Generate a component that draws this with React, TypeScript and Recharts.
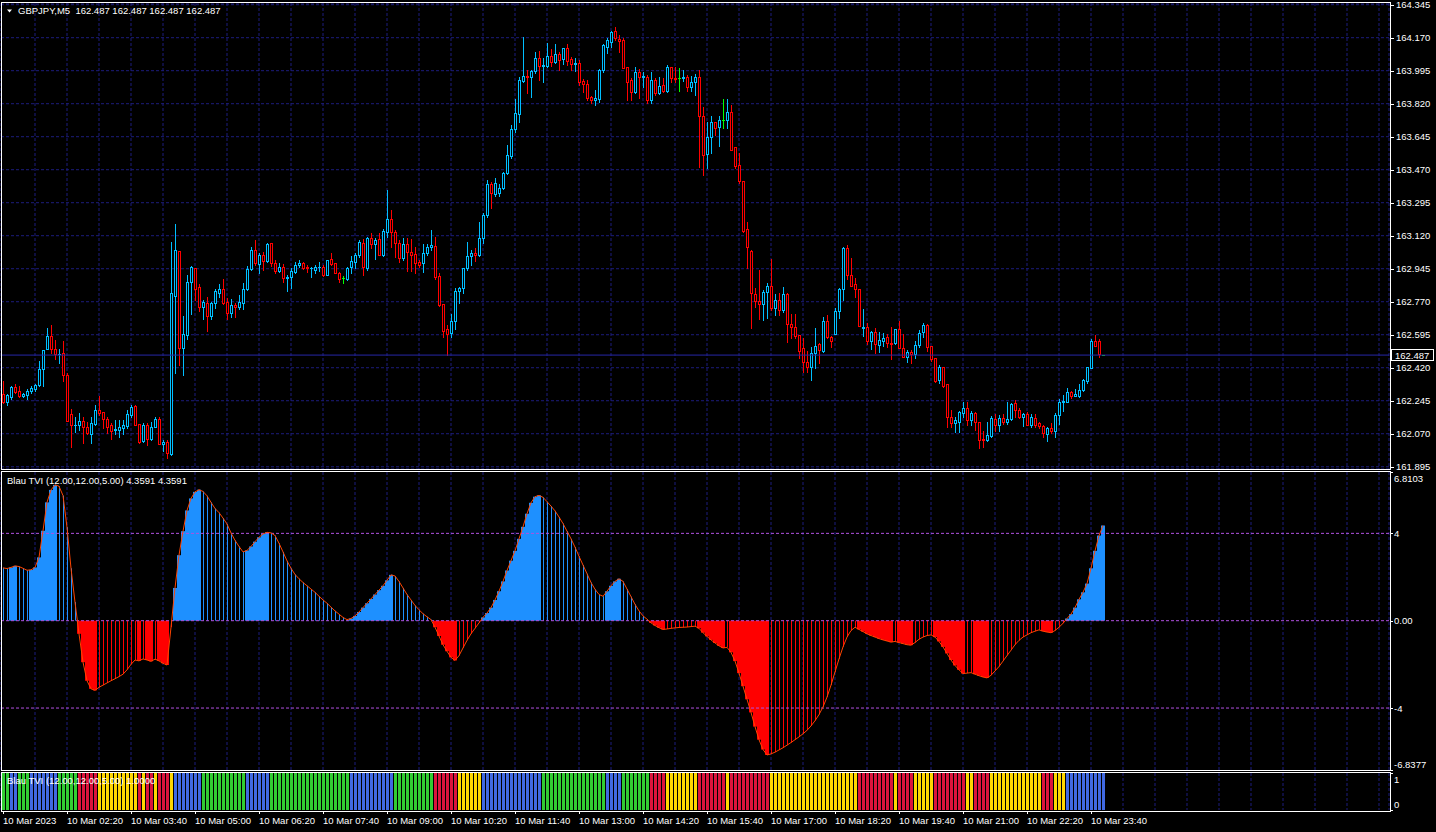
import React from "react"
import { Bar, CartesianGrid, ComposedChart, Line, ReferenceLine, XAxis, YAxis } from "recharts"

// 347 bar slots of 4px fill the window; bars 276..346 are the empty chart shift
const SLOTS = 347
const FONT = "'Liberation Sans', Arial, sans-serif"
const TEXT = "#ffffff"
const GRID = "#1c1c7c"
const BULL = "#00bfff"
const BEAR = "#ff0000"
const DOJI = "#00ff00"
const TVI_UP = "#1e90ff"
const TVI_DOWN = "#ff0000"
const TVI_LINE = "#ff4500"
const LEVEL = "#b050e0"
const BID = "#2626a6"
const SIGNAL_COLORS: Record<string, string> = { G: "#32cd32", B: "#4169e1", R: "#dc143c", Y: "#ffd700" }

const symbol = "GBPJPY,M5"
const indicatorName = "Blau TVI (12.00,12.00,5.00)"

// one label every 16 bars (80 minutes)
const timeLabels = [
  "10 Mar 2023", "10 Mar 02:20", "10 Mar 03:40", "10 Mar 05:00", "10 Mar 06:20", "10 Mar 07:40",
  "10 Mar 09:00", "10 Mar 10:20", "10 Mar 11:40", "10 Mar 13:00", "10 Mar 14:20", "10 Mar 15:40",
  "10 Mar 17:00", "10 Mar 18:20", "10 Mar 19:40", "10 Mar 21:00", "10 Mar 22:20", "10 Mar 23:40",
]

const priceTicks = [
  164.345, 164.17, 163.995, 163.82, 163.645, 163.47, 163.295, 163.12,
  162.945, 162.77, 162.595, 162.42, 162.245, 162.07, 161.895,
]
const priceDomain = [161.883, 164.354]

const tviTicks = [6.8103, 4, 0, -4, -6.8377]
const tviTickLabels = ["6.8103", "4", "0.00", "-4", "-6.8377"]
const tviLevels = [4, 0, -4]
const signalTicks = [1, 0]

const openPrices = [
  162.279, 162.240, 162.263, 162.316, 162.296, 162.272, 162.275, 162.296, 162.307, 162.326,
  162.411, 162.517, 162.588, 162.517, 162.491, 162.496, 162.380, 162.173, 162.116, 162.116,
  162.137, 162.104, 162.067, 162.122, 162.196, 162.183, 162.146, 162.114, 162.090, 162.090,
  162.102, 162.113, 162.171, 162.217, 162.120, 162.033, 162.116, 162.044, 162.107, 162.148,
  162.015, 162.024, 161.961, 162.801, 163.039, 162.523, 162.593, 162.873, 162.947, 162.846,
  162.740, 162.761, 162.696, 162.761, 162.818, 162.836, 162.770, 162.712, 162.752, 162.740,
  162.765, 162.836, 162.942, 163.044, 162.970, 163.018, 162.988, 163.080, 162.973, 162.935,
  162.952, 162.896, 162.899, 162.929, 162.965, 162.977, 162.952, 162.947, 162.938, 162.952,
  162.952, 162.912, 162.994, 162.973, 162.924, 162.894, 162.889, 162.956, 162.982, 163.018,
  163.083, 162.947, 163.106, 163.076, 163.101, 163.018, 163.141, 163.207, 163.138, 163.083,
  163.003, 163.074, 163.035, 163.023, 162.979, 162.973, 163.026, 163.058, 163.065, 162.906,
  162.757, 162.625, 162.602, 162.668, 162.827, 162.841, 162.951, 163.012, 163.030, 163.018,
  163.106, 163.230, 163.394, 163.341, 163.345, 163.371, 163.451, 163.543, 163.686, 163.764,
  163.942, 163.967, 163.963, 163.993, 164.060, 164.022, 164.022, 164.073, 164.039, 164.082,
  164.057, 164.114, 164.057, 164.031, 164.034, 163.940, 163.923, 163.857, 163.840, 163.845,
  163.999, 164.122, 164.149, 164.206, 164.163, 164.158, 164.016, 163.946, 163.884, 163.986,
  163.963, 163.963, 163.840, 163.946, 163.875, 163.919, 163.889, 164.016, 163.958, 163.954,
  163.958, 163.960, 163.910, 163.933, 163.963, 163.757, 163.551, 163.642, 163.721, 163.698,
  163.734, 163.734, 163.774, 163.588, 163.495, 163.410, 163.155, 163.039, 162.809, 162.774,
  162.756, 162.820, 162.853, 162.735, 162.779, 162.726, 162.809, 162.650, 162.638, 162.593,
  162.522, 162.452, 162.426, 162.496, 162.544, 162.509, 162.668, 162.581, 162.600, 162.721,
  162.836, 163.053, 162.912, 162.864, 162.836, 162.632, 162.634, 162.563, 162.611, 162.541,
  162.563, 162.581, 162.549, 162.549, 162.623, 162.523, 162.479, 162.502, 162.491, 162.539,
  162.611, 162.646, 162.535, 162.470, 162.355, 162.422, 162.334, 162.157, 162.125, 162.134,
  162.178, 162.204, 162.143, 162.178, 162.134, 162.044, 162.037, 162.058, 162.146, 162.116,
  162.152, 162.134, 162.146, 162.231, 162.196, 162.157, 162.174, 162.116, 162.152, 162.125,
  162.111, 162.066, 162.098, 162.086, 162.169, 162.236, 162.240, 162.289, 162.272, 162.272,
  162.302, 162.352, 162.419, 162.562, 162.562, 162.487,
]

const highPrices = [
  162.349, 162.280, 162.323, 162.333, 162.323, 162.288, 162.305, 162.323, 162.333, 162.455,
  162.512, 162.629, 162.646, 162.567, 162.520, 162.562, 162.390, 162.201, 162.160, 162.178,
  162.160, 162.134, 162.157, 162.222, 162.270, 162.185, 162.157, 162.125, 162.143, 162.143,
  162.143, 162.196, 162.222, 162.222, 162.120, 162.125, 162.125, 162.134, 162.157, 162.160,
  162.037, 162.037, 163.088, 163.182, 163.040, 162.694, 162.912, 162.959, 162.947, 162.864,
  162.779, 162.793, 162.770, 162.836, 162.864, 162.889, 162.788, 162.782, 162.761, 162.806,
  162.867, 162.959, 163.062, 163.097, 163.027, 163.035, 163.080, 163.080, 162.990, 162.973,
  162.970, 162.912, 162.947, 162.979, 162.991, 162.982, 162.965, 162.956, 162.965, 162.982,
  162.965, 162.991, 163.027, 162.977, 162.929, 162.906, 162.956, 163.012, 163.030, 163.097,
  163.100, 163.111, 163.133, 163.106, 163.133, 163.154, 163.362, 163.256, 163.148, 163.098,
  163.106, 163.106, 163.101, 163.062, 162.991, 163.076, 163.076, 163.150, 163.111, 162.920,
  162.757, 162.646, 162.705, 162.841, 162.850, 162.951, 163.088, 163.044, 163.053, 163.194,
  163.242, 163.415, 163.406, 163.424, 163.394, 163.460, 163.601, 163.707, 163.845, 163.963,
  164.175, 163.998, 163.998, 164.096, 164.101, 164.064, 164.140, 164.110, 164.137, 164.096,
  164.117, 164.135, 164.070, 164.064, 164.052, 163.951, 163.946, 163.863, 163.893, 164.004,
  164.135, 164.167, 164.206, 164.229, 164.184, 164.167, 164.016, 163.958, 164.013, 164.004,
  163.990, 163.972, 163.990, 163.954, 163.963, 163.954, 164.025, 164.016, 164.016, 164.011,
  163.999, 163.972, 163.969, 163.976, 164.001, 163.804, 163.721, 163.756, 163.725, 163.756,
  163.845, 163.845, 163.813, 163.592, 163.560, 163.410, 163.191, 163.044, 162.844, 162.938,
  162.832, 162.867, 162.996, 162.809, 162.814, 162.850, 162.814, 162.703, 162.703, 162.593,
  162.576, 162.508, 162.531, 162.629, 162.549, 162.691, 162.700, 162.588, 162.735, 162.841,
  163.058, 163.071, 163.000, 162.894, 162.836, 162.730, 162.659, 162.616, 162.629, 162.611,
  162.602, 162.599, 162.634, 162.623, 162.669, 162.599, 162.514, 162.514, 162.563, 162.620,
  162.655, 162.652, 162.535, 162.470, 162.434, 162.426, 162.334, 162.196, 162.160, 162.192,
  162.240, 162.240, 162.192, 162.187, 162.134, 162.084, 162.134, 162.164, 162.174, 162.169,
  162.174, 162.240, 162.234, 162.249, 162.204, 162.181, 162.187, 162.174, 162.174, 162.134,
  162.116, 162.107, 162.128, 162.178, 162.252, 162.275, 162.310, 162.296, 162.305, 162.333,
  162.358, 162.426, 162.570, 162.593, 162.570, 162.487,
]

const lowPrices = [
  162.235, 162.222, 162.252, 162.284, 162.263, 162.263, 162.252, 162.288, 162.296, 162.323,
  162.323, 162.517, 162.496, 162.464, 162.447, 162.351, 162.135, 162.001, 162.081, 162.090,
  162.022, 162.070, 162.019, 162.116, 162.170, 162.098, 162.075, 162.044, 162.068, 162.054,
  162.068, 162.102, 162.160, 162.116, 162.022, 162.028, 162.012, 162.038, 162.104, 162.015,
  161.978, 161.943, 161.955, 162.390, 162.434, 162.381, 162.570, 162.705, 162.779, 162.722,
  162.678, 162.616, 162.678, 162.735, 162.793, 162.759, 162.678, 162.687, 162.687, 162.729,
  162.730, 162.832, 162.940, 162.965, 162.924, 162.938, 162.982, 162.960, 162.920, 162.929,
  162.876, 162.828, 162.841, 162.924, 162.952, 162.942, 162.929, 162.903, 162.920, 162.935,
  162.906, 162.910, 162.965, 162.920, 162.876, 162.867, 162.885, 162.920, 162.947, 163.009,
  162.912, 162.938, 163.053, 162.995, 163.018, 163.010, 163.115, 163.062, 163.009, 162.982,
  162.991, 162.935, 162.935, 162.924, 162.952, 162.929, 163.017, 163.044, 162.888, 162.747,
  162.581, 162.487, 162.581, 162.623, 162.761, 162.818, 162.938, 162.965, 162.988, 163.012,
  163.080, 163.221, 163.265, 163.332, 163.332, 163.366, 163.447, 163.530, 163.672, 163.725,
  163.937, 163.879, 163.857, 163.981, 163.946, 163.937, 164.016, 164.022, 164.034, 163.999,
  164.029, 164.025, 163.999, 163.994, 163.919, 163.884, 163.840, 163.822, 163.813, 163.831,
  163.990, 164.087, 164.122, 164.158, 164.096, 164.008, 163.840, 163.840, 163.875, 163.849,
  163.910, 163.822, 163.822, 163.866, 163.870, 163.880, 163.884, 163.937, 163.937, 163.887,
  163.940, 163.887, 163.887, 163.866, 163.486, 163.442, 163.477, 163.557, 163.654, 163.597,
  163.693, 163.689, 163.575, 163.477, 163.398, 163.141, 162.947, 162.632, 162.744, 162.678,
  162.673, 162.685, 162.726, 162.699, 162.699, 162.717, 162.558, 162.579, 162.579, 162.473,
  162.399, 162.399, 162.355, 162.417, 162.443, 162.505, 162.576, 162.528, 162.600, 162.682,
  162.779, 162.889, 162.855, 162.797, 162.643, 162.590, 162.546, 162.517, 162.496, 162.501,
  162.535, 162.532, 162.464, 162.546, 162.523, 162.475, 162.452, 162.447, 162.470, 162.532,
  162.585, 162.510, 162.457, 162.346, 162.340, 162.316, 162.107, 162.107, 162.081, 162.081,
  162.160, 162.116, 162.116, 162.090, 161.992, 162.001, 162.033, 162.054, 162.086, 162.086,
  162.121, 162.121, 162.143, 162.160, 162.155, 162.113, 162.116, 162.107, 162.107, 162.098,
  162.051, 162.031, 162.072, 162.054, 162.121, 162.192, 162.236, 162.261, 162.272, 162.266,
  162.298, 162.341, 162.416, 162.535, 162.475, 162.487,
]

const closePrices = [
  162.240, 162.275, 162.316, 162.293, 162.272, 162.280, 162.298, 162.310, 162.326, 162.411,
  162.512, 162.588, 162.517, 162.491, 162.494, 162.380, 162.139, 162.114, 162.118, 162.137,
  162.104, 162.075, 162.125, 162.196, 162.178, 162.146, 162.107, 162.086, 162.093, 162.106,
  162.114, 162.175, 162.212, 162.116, 162.028, 162.116, 162.042, 162.104, 162.148, 162.017,
  162.024, 161.969, 162.815, 163.044, 162.523, 162.597, 162.873, 162.952, 162.836, 162.744,
  162.770, 162.696, 162.761, 162.827, 162.836, 162.761, 162.712, 162.752, 162.740, 162.770,
  162.836, 162.942, 163.044, 162.973, 163.018, 162.988, 163.076, 162.973, 162.935, 162.952,
  162.894, 162.899, 162.933, 162.965, 162.977, 162.947, 162.949, 162.950, 162.956, 162.954,
  162.912, 162.991, 162.970, 162.924, 162.889, 162.894, 162.949, 162.984, 163.016, 163.087,
  162.956, 163.106, 163.076, 163.097, 163.018, 163.145, 163.207, 163.138, 163.083, 163.003,
  163.074, 163.035, 163.018, 162.973, 162.965, 163.026, 163.058, 163.071, 162.903, 162.752,
  162.616, 162.599, 162.668, 162.827, 162.841, 162.951, 163.012, 163.030, 163.018, 163.106,
  163.230, 163.394, 163.345, 163.401, 163.371, 163.451, 163.548, 163.686, 163.769, 163.946,
  163.967, 163.960, 163.993, 164.060, 164.022, 164.025, 164.073, 164.039, 164.082, 164.052,
  164.114, 164.048, 164.031, 164.034, 163.933, 163.923, 163.852, 163.840, 163.849, 163.999,
  164.131, 164.158, 164.199, 164.167, 164.154, 164.011, 163.937, 163.884, 163.986, 163.963,
  163.965, 163.840, 163.946, 163.875, 163.914, 163.889, 164.013, 163.954, 163.949, 163.954,
  163.960, 163.910, 163.933, 163.960, 163.757, 163.548, 163.642, 163.721, 163.689, 163.734,
  163.734, 163.774, 163.575, 163.491, 163.412, 163.145, 163.062, 162.814, 162.774, 162.756,
  162.820, 162.853, 162.735, 162.779, 162.726, 162.809, 162.650, 162.638, 162.590, 162.510,
  162.452, 162.426, 162.496, 162.537, 162.514, 162.668, 162.585, 162.563, 162.721, 162.836,
  163.053, 162.912, 162.855, 162.836, 162.643, 162.634, 162.563, 162.611, 162.546, 162.567,
  162.576, 162.549, 162.546, 162.623, 162.523, 162.479, 162.502, 162.491, 162.539, 162.606,
  162.646, 162.532, 162.466, 162.351, 162.426, 162.325, 162.157, 162.125, 162.143, 162.185,
  162.204, 162.143, 162.178, 162.134, 162.037, 162.037, 162.063, 162.152, 162.116, 162.152,
  162.134, 162.146, 162.227, 162.196, 162.160, 162.174, 162.116, 162.157, 162.116, 162.111,
  162.072, 162.098, 162.084, 162.169, 162.236, 162.243, 162.289, 162.272, 162.280, 162.302,
  162.355, 162.422, 162.562, 162.535, 162.493, 162.487,
]

const tviValues = [
  2.42, 2.39, 2.44, 2.51, 2.48, 2.40, 2.31, 2.33, 2.44, 2.90,
  4.12, 5.42, 5.99, 6.22, 6.16, 5.73, 4.28, 2.40, 0.85, -0.60,
  -1.90, -2.75, -3.12, -3.19, -3.05, -2.95, -2.85, -2.75, -2.66, -2.56,
  -2.45, -2.25, -2.00, -1.80, -1.84, -1.75, -1.80, -1.86, -1.76, -1.84,
  -1.95, -2.03, -0.30, 1.50, 3.00, 4.10, 5.05, 5.60, 5.90, 6.00,
  5.92, 5.72, 5.42, 5.14, 4.95, 4.70, 4.43, 4.02, 3.68, 3.40,
  3.15, 3.22, 3.40, 3.62, 3.82, 3.97, 4.05, 4.02, 3.90, 3.55,
  3.15, 2.74, 2.40, 2.12, 1.92, 1.75, 1.60, 1.45, 1.30, 1.12,
  0.95, 0.80, 0.62, 0.45, 0.30, 0.15, 0.05, 0.10, 0.22, 0.40,
  0.60, 0.80, 1.00, 1.20, 1.40, 1.60, 1.85, 2.10, 2.05, 1.80,
  1.50, 1.20, 0.95, 0.70, 0.50, 0.32, 0.18, 0.05, -0.30, -0.70,
  -1.10, -1.40, -1.68, -1.82, -1.60, -1.25, -0.90, -0.60, -0.35, -0.10,
  0.15, 0.35, 0.60, 0.95, 1.35, 1.80, 2.30, 2.75, 3.20, 3.75,
  4.30, 4.90, 5.40, 5.68, 5.74, 5.65, 5.45, 5.25, 5.03, 4.75,
  4.45, 4.10, 3.75, 3.37, 2.95, 2.55, 2.15, 1.75, 1.44, 1.20,
  1.12, 1.35, 1.60, 1.80, 1.92, 1.80, 1.45, 1.10, 0.75, 0.45,
  0.22, 0.07, -0.10, -0.22, -0.32, -0.40, -0.38, -0.35, -0.33, -0.31,
  -0.30, -0.29, -0.27, -0.25, -0.35, -0.55, -0.72, -0.88, -1.02, -1.15,
  -1.25, -1.22, -1.45, -1.85, -2.40, -3.00, -3.60, -4.20, -4.85, -5.45,
  -5.90, -6.15, -6.10, -6.02, -5.92, -5.82, -5.70, -5.58, -5.45, -5.32,
  -5.18, -5.02, -4.82, -4.58, -4.30, -3.95, -3.50, -2.95, -2.35, -1.75,
  -1.20, -0.75, -0.45, -0.30, -0.40, -0.50, -0.60, -0.68, -0.75, -0.82,
  -0.88, -0.93, -0.98, -0.95, -1.00, -1.05, -1.10, -1.12, -1.00, -0.85,
  -0.75, -0.68, -0.65, -0.75, -0.95, -1.20, -1.50, -1.80, -2.05, -2.25,
  -2.42, -2.40, -2.38, -2.45, -2.52, -2.58, -2.62, -2.50, -2.30, -2.10,
  -1.85, -1.60, -1.35, -1.10, -0.90, -0.75, -0.65, -0.55, -0.48, -0.42,
  -0.48, -0.52, -0.55, -0.45, -0.30, -0.12, 0.10, 0.30, 0.60, 0.98,
  1.30, 1.70, 2.40, 3.20, 3.90, 4.3591,
]

// TVI state per bar: B rising above 0, G falling above 0, R falling below 0, Y rising below 0
const tviStates = [
  "GG", "BB", "GGG", "BBBBBBB", "GGGGG", "RRRRR", "YYYYYYYYYY", "R", "Y", "RR", "Y", "RRR", "Y",
  "BBBBBBB", "GGGGGGGGGGG", "BBBBBB", "GGGGGGGGGGGGGGGGGGGG", "BBBBBBBBBBB", "GGGGGGGGGG",
  "RRRRRR", "YYYYYY", "BBBBBBBBBBBBBBB", "GGGGGGGGGGGGGGGG", "BBBB", "GGGGGGG", "RRRR",
  "YYYYYYYY", "RRRRRRR", "Y", "RRRRRRRRRR", "YYYYYYYYYYYYYYYYYYYYYY", "RRRRRRRRR", "Y", "RRRR",
  "YYYYY", "RRRRRRRR", "YY", "RRRR", "YYYYYYYYYYYYY", "RRR", "YYY", "BBBBBBBBBB",
].join("")

const rows = Array.from({ length: SLOTS }, (_, i) =>
  i < closePrices.length
    ? {
        idx: i,
        open: openPrices[i],
        high: highPrices[i],
        low: lowPrices[i],
        close: closePrices[i],
        range: [lowPrices[i], highPrices[i]],
        tvi: tviValues[i],
        state: tviStates[i],
        signal: 1,
      }
    : { idx: i }
)

const last = closePrices.length - 1
const gridTicks = Array.from({ length: 43 }, (_, k) => 8 * (k + 1))

function CandleShape(props: any) {
  const { x, y, width, height, payload } = props
  if (!payload || payload.close == null) return <g />
  const { open, high, low, close } = payload
  const px = Math.floor(x + width / 2) + 0.5
  const top = Math.min(y, y + height)
  const span = Math.abs(height)
  const toY = (v: number) => (high === low ? top : top + ((high - v) / (high - low)) * span)
  const snap = (v: number) => Math.round(v) + 0.5
  const yHigh = snap(top)
  const yLow = snap(top + span)
  const yOpen = snap(toY(open))
  const yClose = snap(toY(close))

  if (open === close) {
    return (
      <g>
        <line x1={px} x2={px} y1={yHigh - 0.5} y2={yLow + 0.5} stroke={DOJI} />
        <line x1={px - 1.5} x2={px + 1.5} y1={yOpen} y2={yOpen} stroke={DOJI} />
      </g>
    )
  }
  const color = close > open ? BULL : BEAR
  const bodyTop = Math.min(yOpen, yClose)
  const bodyBottom = Math.max(yOpen, yClose)
  return (
    <g>
      <line x1={px} x2={px} y1={yHigh - 0.5} y2={yLow + 0.5} stroke={color} />
      {bodyBottom - bodyTop < 1 ? (
        <line x1={px - 1.5} x2={px + 1.5} y1={bodyTop} y2={bodyTop} stroke={color} />
      ) : (
        <rect x={px - 1} y={bodyTop} width={2} height={bodyBottom - bodyTop} fill="#000" stroke={color} />
      )}
    </g>
  )
}

function HistShape(props: any) {
  const { x, y, width, height, payload } = props
  if (!payload || payload.tvi == null) return <g />
  const up = payload.state === "B" || payload.state === "G"
  const thick = payload.state === "B" || payload.state === "R"
  const color = up ? TVI_UP : TVI_DOWN
  const top = Math.min(y, y + height)
  const span = Math.abs(height)
  const c = Math.floor(x + width / 2)
  if (thick) return <rect x={c - 2} y={top} width={4} height={span} fill={color} />
  return <line x1={c + 0.5} x2={c + 0.5} y1={top} y2={top + span} stroke={color} />
}

function SignalShape(props: any) {
  const { x, y, width, height, payload } = props
  if (!payload || !payload.state) return <g />
  const top = Math.min(y, y + height)
  const c = Math.floor(x + width / 2)
  return <rect x={c - 1} y={top} width={3} height={Math.abs(height)} fill={SIGNAL_COLORS[payload.state]} />
}

function PriceTick(props: any) {
  const { x, y, payload } = props
  const py = Math.round(y) + 0.5
  return (
    <g>
      <line x1={x + 1} x2={x + 5} y1={py} y2={py} stroke={TEXT} />
      <text x={x + 7} y={y + 3.5} fill={TEXT} fontSize={9.5} fontFamily={FONT}>
        {payload.value.toFixed(3)}
      </text>
    </g>
  )
}

function TviTick(props: any) {
  const { x, y, payload } = props
  const k = tviTicks.indexOf(payload.value)
  const shift = k === 0 ? 6 : k === tviTicks.length - 1 ? -6 : 0
  const py = Math.round(y) + 0.5
  return (
    <g>
      <line x1={x + 1} x2={x + 4} y1={py} y2={py} stroke={TEXT} />
      <text x={x + 5} y={y + shift + 3.5} fill={TEXT} fontSize={9.5} fontFamily={FONT}>
        {tviTickLabels[k]}
      </text>
    </g>
  )
}

function SignalTick(props: any) {
  const { x, y, payload } = props
  const shift = payload.value === 1 ? 6 : -6
  const py = Math.round(y) + 0.5
  return (
    <g>
      <line x1={x + 1} x2={x + 4} y1={py} y2={py} stroke={TEXT} />
      <text x={x + 5} y={y + shift + 3.5} fill={TEXT} fontSize={9.5} fontFamily={FONT}>
        {String(payload.value)}
      </text>
    </g>
  )
}

function TimeTick(props: any) {
  const { x, y, payload } = props
  if (payload.value % 16 !== 0) return <g />
  const label = timeLabels[payload.value / 16]
  if (!label) return <g />
  const px = Math.floor(x) + 0.5
  return (
    <g>
      <line x1={px} x2={px} y1={y + 1} y2={y + 4} stroke={TEXT} />
      <text x={x} y={y + 14} fill={TEXT} fontSize={9.5} fontFamily={FONT}>
        {label}
      </text>
    </g>
  )
}

function BidLabel(props: any) {
  const { viewBox, text } = props
  if (!viewBox) return null
  const lx = viewBox.x + viewBox.width + 2
  const cy = Math.round(viewBox.y)
  return (
    <g>
      <rect x={lx + 0.5} y={cy - 5.5} width={42} height={11} fill="#000" stroke={TEXT} />
      <text x={lx + 4} y={cy + 3.5} fill={TEXT} fontSize={9.5} fontFamily={FONT}>
        {text}
      </text>
    </g>
  )
}

const panelBorder = (top: number, height: number): React.CSSProperties => ({
  position: "absolute",
  left: 1,
  top,
  width: 1390,
  height,
  border: "1px solid #fff",
  boxSizing: "border-box",
  pointerEvents: "none",
})

export default function App() {
  const lastValues = [openPrices[last], highPrices[last], lowPrices[last], closePrices[last]]
    .map((v) => v.toFixed(3))
    .join(" ")
  const tviText = tviValues[last].toFixed(4)

  return (
    <div style={{ position: "fixed", left: 0, top: 0, width: 1436, height: 832, background: "#000", overflow: "hidden" }}>
      <div style={{ position: "absolute", left: 0, top: 0 }}>
        {/* taller svg than the plot so the lowest price label is not clipped */}
        <ComposedChart width={1436} height={478} data={rows} margin={{ top: 3, right: 0, bottom: 9, left: 1 }} barCategoryGap={0} barGap={0}>
          <CartesianGrid stroke={GRID} strokeDasharray="3 2" />
          <XAxis dataKey="idx" type="category" ticks={gridTicks} interval={0} hide />
          <YAxis
            orientation="right"
            width={47}
            domain={priceDomain}
            allowDataOverflow
            ticks={priceTicks}
            interval={0}
            axisLine={false}
            tickLine={false}
            tickSize={0}
            tickMargin={0}
            tick={<PriceTick />}
          />
          <ReferenceLine y={closePrices[last]} stroke={BID} label={<BidLabel text={closePrices[last].toFixed(3)} />} />
          <Bar dataKey="range" shape={<CandleShape />} isAnimationActive={false} />
        </ComposedChart>
      </div>

      <div style={{ position: "absolute", left: 0, top: 471 }}>
        <ComposedChart width={1436} height={300} data={rows} margin={{ top: 1, right: 0, bottom: 1, left: 1 }} barCategoryGap={0} barGap={0}>
          <CartesianGrid stroke={GRID} strokeDasharray="3 2" horizontal={false} />
          <XAxis dataKey="idx" type="category" ticks={gridTicks} interval={0} hide />
          <YAxis
            orientation="right"
            width={47}
            domain={[tviTicks[tviTicks.length - 1], tviTicks[0]]}
            allowDataOverflow
            ticks={tviTicks}
            interval={0}
            axisLine={false}
            tickLine={false}
            tickSize={0}
            tickMargin={0}
            tick={<TviTick />}
          />
          <Bar dataKey="tvi" shape={<HistShape />} isAnimationActive={false} />
          {tviLevels.map((v) => (
            <ReferenceLine key={v} y={v} stroke={LEVEL} strokeDasharray="3 2" />
          ))}
          <Line dataKey="tvi" stroke={TVI_LINE} strokeWidth={1} dot={false} activeDot={false} isAnimationActive={false} />
        </ComposedChart>
      </div>

      <div style={{ position: "absolute", left: 0, top: 772 }}>
        <ComposedChart width={1436} height={60} data={rows} margin={{ top: 1, right: 0, bottom: 0, left: 1 }} barCategoryGap={0} barGap={0}>
          <CartesianGrid stroke={GRID} strokeDasharray="3 2" horizontal={false} />
          <XAxis
            dataKey="idx"
            type="category"
            ticks={[0, ...gridTicks]}
            interval={0}
            height={22}
            axisLine={false}
            tickLine={false}
            tickSize={0}
            tickMargin={0}
            tick={<TimeTick />}
          />
          <YAxis
            orientation="right"
            width={47}
            domain={[0, 1]}
            ticks={signalTicks}
            interval={0}
            axisLine={false}
            tickLine={false}
            tickSize={0}
            tickMargin={0}
            tick={<SignalTick />}
          />
          <Bar dataKey="signal" shape={<SignalShape />} isAnimationActive={false} />
        </ComposedChart>
      </div>

      <div style={panelBorder(2, 468)} />
      <div style={panelBorder(471, 300)} />
      <div style={panelBorder(772, 40)} />

      <svg width={1436} height={832} style={{ position: "absolute", left: 0, top: 0, pointerEvents: "none" }}>
        <polygon points="7,9.5 12,9.5 9.5,12.5" fill={TEXT} />
        <text x={18} y={14} fill={TEXT} fontSize={9.5} fontFamily={FONT} style={{ whiteSpace: "pre" }}>
          {`${symbol}  ${lastValues}`}
        </text>
        <text x={7} y={484} fill={TEXT} fontSize={9.5} fontFamily={FONT}>
          {`${indicatorName} ${tviText} ${tviText}`}
        </text>
        <text x={7} y={784} fill={TEXT} fontSize={9.5} fontFamily={FONT}>
          {`${indicatorName} ${(1).toFixed(4)}`}
        </text>
      </svg>
    </div>
  )
}
